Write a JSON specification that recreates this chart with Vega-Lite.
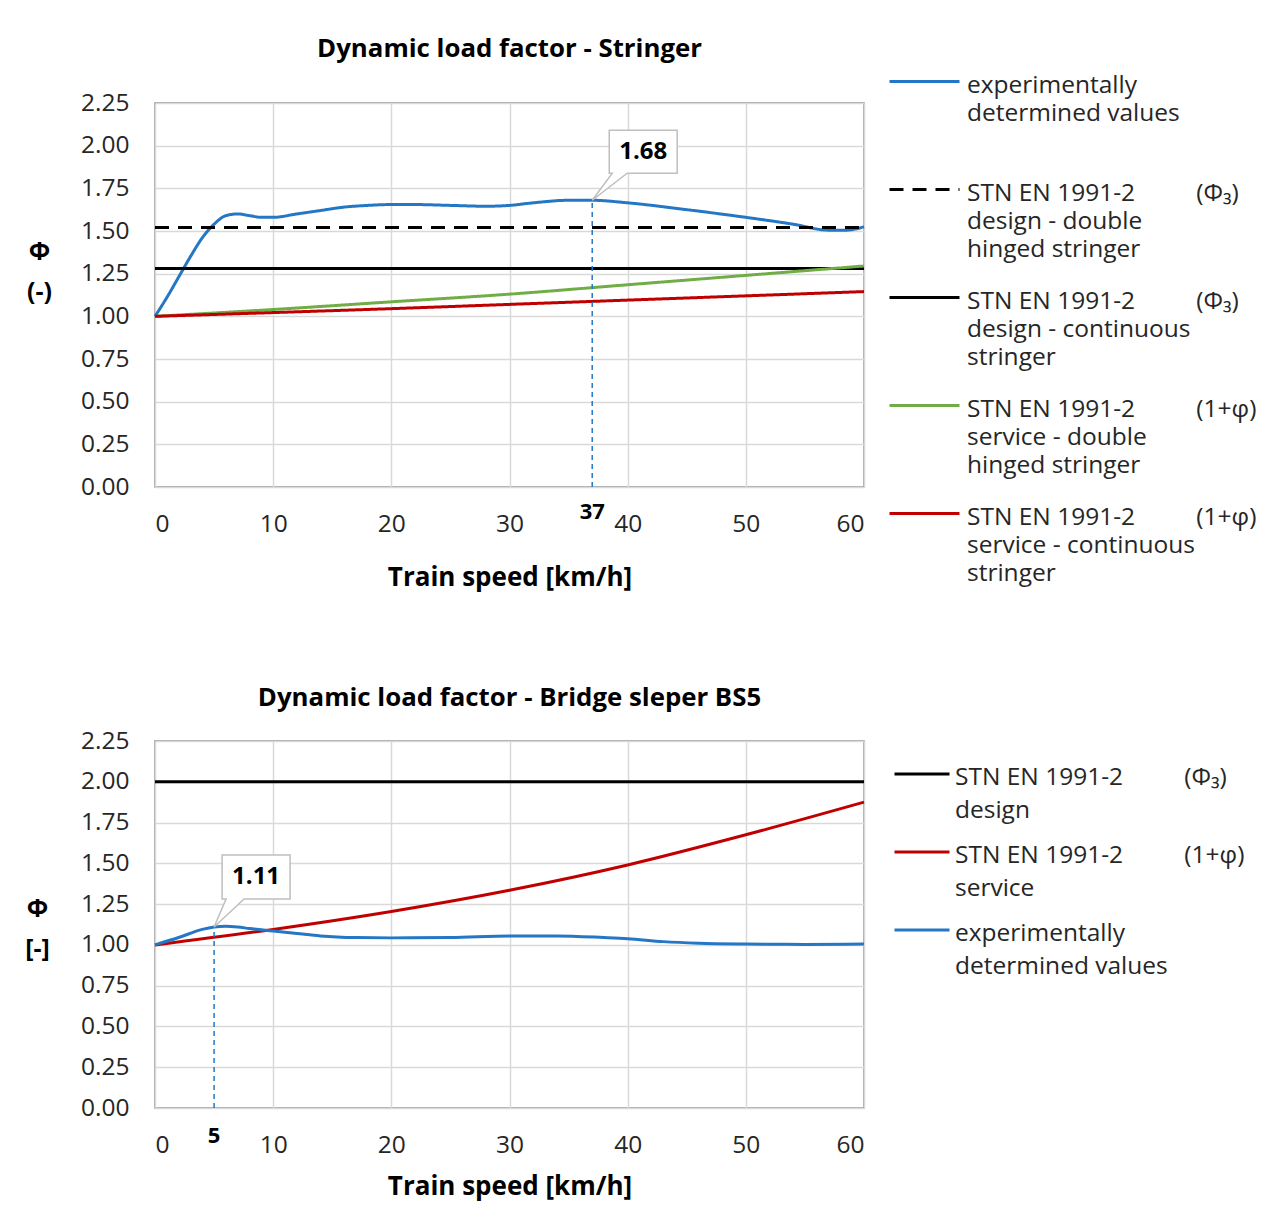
{
  "$schema": "https://vega.github.io/schema/vega-lite/v6.json",
  "background": "white",
  "padding": {"left": 23, "top": 35, "right": 5, "bottom": 5},
  "spacing": 92,
  "datasets": {
    "stringer": [
      {"s": "exp", "v": 0, "phi": 1.0}, {"s": "exp", "v": 1, "phi": 1.11}, {"s": "exp", "v": 2, "phi": 1.23},
      {"s": "exp", "v": 3, "phi": 1.35}, {"s": "exp", "v": 4, "phi": 1.46}, {"s": "exp", "v": 5, "phi": 1.54},
      {"s": "exp", "v": 6, "phi": 1.59}, {"s": "exp", "v": 7, "phi": 1.6}, {"s": "exp", "v": 8, "phi": 1.59},
      {"s": "exp", "v": 9, "phi": 1.58}, {"s": "exp", "v": 10, "phi": 1.58}, {"s": "exp", "v": 12, "phi": 1.6},
      {"s": "exp", "v": 14, "phi": 1.62}, {"s": "exp", "v": 16, "phi": 1.64}, {"s": "exp", "v": 18, "phi": 1.65},
      {"s": "exp", "v": 20, "phi": 1.655}, {"s": "exp", "v": 22, "phi": 1.655}, {"s": "exp", "v": 25, "phi": 1.65},
      {"s": "exp", "v": 28, "phi": 1.645}, {"s": "exp", "v": 30, "phi": 1.65}, {"s": "exp", "v": 32, "phi": 1.665},
      {"s": "exp", "v": 35, "phi": 1.68}, {"s": "exp", "v": 37, "phi": 1.68}, {"s": "exp", "v": 40, "phi": 1.665},
      {"s": "exp", "v": 45, "phi": 1.625}, {"s": "exp", "v": 50, "phi": 1.58}, {"s": "exp", "v": 54, "phi": 1.54},
      {"s": "exp", "v": 57, "phi": 1.505}, {"s": "exp", "v": 58.5, "phi": 1.505}, {"s": "exp", "v": 60, "phi": 1.525},
      {"s": "dd", "v": 0, "phi": 1.52}, {"s": "dd", "v": 60, "phi": 1.52},
      {"s": "dc", "v": 0, "phi": 1.28}, {"s": "dc", "v": 60, "phi": 1.28},
      {"s": "sd", "v": 0, "phi": 1.0}, {"s": "sd", "v": 10, "phi": 1.04}, {"s": "sd", "v": 20, "phi": 1.085},
      {"s": "sd", "v": 30, "phi": 1.13}, {"s": "sd", "v": 40, "phi": 1.185}, {"s": "sd", "v": 50, "phi": 1.24},
      {"s": "sd", "v": 60, "phi": 1.295},
      {"s": "sc", "v": 0, "phi": 1.0}, {"s": "sc", "v": 10, "phi": 1.022}, {"s": "sc", "v": 20, "phi": 1.045},
      {"s": "sc", "v": 30, "phi": 1.07}, {"s": "sc", "v": 40, "phi": 1.095}, {"s": "sc", "v": 50, "phi": 1.12},
      {"s": "sc", "v": 60, "phi": 1.145}
    ],
    "sleeper": [
      {"s": "d", "v": 0, "phi": 2.0}, {"s": "d", "v": 60, "phi": 2.0},
      {"s": "s", "v": 0, "phi": 1.0}, {"s": "s", "v": 10, "phi": 1.095}, {"s": "s", "v": 20, "phi": 1.205},
      {"s": "s", "v": 30, "phi": 1.335}, {"s": "s", "v": 40, "phi": 1.49}, {"s": "s", "v": 50, "phi": 1.675},
      {"s": "s", "v": 60, "phi": 1.875},
      {"s": "exp", "v": 0, "phi": 1.0}, {"s": "exp", "v": 2, "phi": 1.045}, {"s": "exp", "v": 4, "phi": 1.095},
      {"s": "exp", "v": 5, "phi": 1.11}, {"s": "exp", "v": 6, "phi": 1.115}, {"s": "exp", "v": 7, "phi": 1.11},
      {"s": "exp", "v": 8, "phi": 1.1}, {"s": "exp", "v": 10, "phi": 1.085}, {"s": "exp", "v": 12, "phi": 1.07},
      {"s": "exp", "v": 14, "phi": 1.055}, {"s": "exp", "v": 17, "phi": 1.045}, {"s": "exp", "v": 20, "phi": 1.043},
      {"s": "exp", "v": 25, "phi": 1.045}, {"s": "exp", "v": 30, "phi": 1.055}, {"s": "exp", "v": 34, "phi": 1.055},
      {"s": "exp", "v": 38, "phi": 1.045}, {"s": "exp", "v": 40, "phi": 1.038}, {"s": "exp", "v": 43, "phi": 1.02},
      {"s": "exp", "v": 46, "phi": 1.01}, {"s": "exp", "v": 50, "phi": 1.005}, {"s": "exp", "v": 55, "phi": 1.003},
      {"s": "exp", "v": 60, "phi": 1.005}
    ],
    "peakTop": [{"v": 37, "zero": 0, "phi": 1.68, "label": "1.68", "tick": "37"}],
    "peakBottom": [{"v": 5, "zero": 0, "phi": 1.11, "label": "1.11", "tick": "5"}]
  },
  "vconcat": [
    {
      "width": 709,
      "height": 384,
      "title": {"text": "Dynamic load factor - Stringer", "frame": "group", "anchor": "middle", "offset": -18},
      "layer": [
        {
          "data": {"name": "stringer"},
          "mark": {"type": "line", "strokeWidth": 3, "interpolate": "monotone"},
          "encoding": {
            "x": {"field": "v", "type": "quantitative", "scale": {"domain": [0, 60], "nice": false},
                  "axis": {"values": [0, 10, 20, 30, 40, 50, 60], "title": "Train speed [km/h]"}},
            "y": {"field": "phi", "type": "quantitative", "scale": {"domain": [0, 2.25], "nice": false},
                  "axis": {"values": [0, 0.25, 0.5, 0.75, 1, 1.25, 1.5, 1.75, 2, 2.25], "format": ".2f",
                           "title": ["Φ", "(-)"], "titleX": -116, "titleY": 148}},
            "color": {"field": "s", "type": "nominal",
                      "scale": {"domain": ["exp", "dd", "dc", "sd", "sc"], "range": ["#2477c4", "#000000", "#000000", "#70ad47", "#c00000"]},
                      "legend": {"title": null, "orient": "none", "legendX": 733, "legendY": -58, "symbolSize": 4900, "rowPadding": 0,
                                 "labelOffset": 6,
                                 "labelExpr": "datum.label == 'exp' ? ['experimentally', 'determined values', ''] : datum.label == 'dd' ? ['STN EN 1991-2\u2003\u2003\u2002(Φ₃)', 'design - double', 'hinged stringer'] : datum.label == 'dc' ? ['STN EN 1991-2\u2003\u2003\u2002(Φ₃)', 'design - continuous', 'stringer'] : datum.label == 'sd' ? ['STN EN 1991-2\u2003\u2003\u2002(1+φ)', 'service - double', 'hinged stringer'] : ['STN EN 1991-2\u2003\u2003\u2002(1+φ)', 'service - continuous', 'stringer']",
                                 "encode": {
                                   "labels": {"update": {"lineHeight": {"value": 28}, "dy": {"value": -8}}},
                                   "symbols": {"update": {"strokeDash": {"signal": "datum.value == 'dd' ? [14, 9] : [1, 0]"}}}
                                 }}},
            "strokeDash": {"field": "s", "type": "nominal", "legend": null,
                           "scale": {"domain": ["exp", "dd", "dc", "sd", "sc"], "range": [[1, 0], [14, 9], [1, 0], [1, 0], [1, 0]]}}
          }
        },
        {
          "data": {"name": "peakTop"},
          "mark": {"type": "rule", "color": "#2477c4", "strokeDash": [5, 4], "strokeWidth": 1.5},
          "encoding": {"x": {"field": "v", "type": "quantitative"}, "y": {"field": "zero", "type": "quantitative"}, "y2": {"field": "phi"}}
        },
        {
          "data": {"name": "peakTop"},
          "mark": {"type": "point", "shape": "M0,0L0.233,-0.314L0.198,-0.314L0.198,-0.814L0.988,-0.814L0.988,-0.314L0.407,-0.314Z",
                   "size": 29584, "filled": true, "fill": "white", "stroke": "#bfbfbf", "strokeWidth": 1.5, "opacity": 1},
          "encoding": {"x": {"field": "v", "type": "quantitative"}, "y": {"field": "phi", "type": "quantitative"}}
        },
        {
          "data": {"name": "peakTop"},
          "mark": {"type": "text", "dx": 51, "dy": -48, "fontSize": 24, "fontWeight": "bold", "baseline": "middle", "align": "center", "color": "black"},
          "encoding": {"x": {"field": "v", "type": "quantitative"}, "y": {"field": "phi", "type": "quantitative"}, "text": {"field": "label"}}
        },
        {
          "data": {"name": "peakTop"},
          "mark": {"type": "text", "dy": 25, "fontSize": 22, "fontWeight": "bold", "baseline": "middle", "align": "center", "color": "black"},
          "encoding": {"x": {"field": "v", "type": "quantitative"}, "y": {"field": "zero", "type": "quantitative"}, "text": {"field": "tick"}}
        }
      ]
    },
    {
      "width": 709,
      "height": 367,
      "title": {"text": "Dynamic load factor - Bridge sleper BS5", "frame": "group", "anchor": "middle", "offset": 16},
      "layer": [
        {
          "data": {"name": "sleeper"},
          "mark": {"type": "line", "strokeWidth": 3, "interpolate": "monotone"},
          "encoding": {
            "x": {"field": "v", "type": "quantitative", "scale": {"domain": [0, 60], "nice": false},
                  "axis": {"values": [0, 10, 20, 30, 40, 50, 60], "title": "Train speed [km/h]", "titlePadding": 17}},
            "y": {"field": "phi", "type": "quantitative", "scale": {"domain": [0, 2.25], "nice": false},
                  "axis": {"values": [0, 0.25, 0.5, 0.75, 1, 1.25, 1.5, 1.75, 2, 2.25], "format": ".2f",
                           "title": ["Φ", "[-]"], "titleX": -118, "titleY": 167}},
            "color": {"field": "s", "type": "nominal",
                      "scale": {"domain": ["d", "s", "exp"], "range": ["#000000", "#c00000", "#2477c4"]},
                      "legend": {"title": null, "orient": "none", "legendX": 738, "legendY": 4, "symbolSize": 3025, "rowPadding": 0,
                                 "labelOffset": 4,
                                 "labelExpr": "datum.label == 'd' ? ['STN EN 1991-2\u2003\u2003\u2002(Φ₃)', 'design'] : datum.label == 's' ? ['STN EN 1991-2\u2003\u2003\u2002(1+φ)', 'service'] : ['experimentally', 'determined values']",
                                 "encode": {"labels": {"update": {"lineHeight": {"value": 33}, "dy": {"value": -8}}}}}}
          }
        },
        {
          "data": {"name": "peakBottom"},
          "mark": {"type": "rule", "color": "#2477c4", "strokeDash": [5, 4], "strokeWidth": 1.5},
          "encoding": {"x": {"field": "v", "type": "quantitative"}, "y": {"field": "zero", "type": "quantitative"}, "y2": {"field": "phi"}}
        },
        {
          "data": {"name": "peakBottom"},
          "mark": {"type": "point", "shape": "M0,0L0.15,-0.35L0.1,-0.35L0.1,-0.9L0.95,-0.9L0.95,-0.35L0.375,-0.35Z",
                   "size": 25600, "filled": true, "fill": "white", "stroke": "#bfbfbf", "strokeWidth": 1.5, "opacity": 1},
          "encoding": {"x": {"field": "v", "type": "quantitative"}, "y": {"field": "phi", "type": "quantitative"}}
        },
        {
          "data": {"name": "peakBottom"},
          "mark": {"type": "text", "dx": 42, "dy": -50, "fontSize": 24, "fontWeight": "bold", "baseline": "middle", "align": "center", "color": "black"},
          "encoding": {"x": {"field": "v", "type": "quantitative"}, "y": {"field": "phi", "type": "quantitative"}, "text": {"field": "label"}}
        },
        {
          "data": {"name": "peakBottom"},
          "mark": {"type": "text", "dy": 28, "fontSize": 22, "fontWeight": "bold", "baseline": "middle", "align": "center", "color": "black"},
          "encoding": {"x": {"field": "v", "type": "quantitative"}, "y": {"field": "zero", "type": "quantitative"}, "text": {"field": "tick"}}
        }
      ]
    }
  ],
  "resolve": {
    "scale": {"color": "independent"},
    "legend": {"color": "independent"}
  },
  "config": {
    "font": "Open Sans",
    "view": {"stroke": "#8c8c8c", "strokeWidth": 1.5},
    "title": {"fontSize": 25.8, "fontWeight": "bold", "color": "black"},
    "axis": {
      "domain": false, "ticks": false, "gridColor": "#d9d9d9", "gridWidth": 1.5,
      "labelFontSize": 24.5, "labelColor": "#262626", "labelPadding": 25,
      "titleFontSize": 26, "titleFontWeight": "bold", "titleColor": "black"
    },
    "axisX": {"titlePadding": 29},
    "axisY": {"titleAngle": 0, "titleAlign": "center", "titleBaseline": "middle", "titleLineHeight": 40, "titleFontSize": 25, "labelPadding": 26},
    "legend": {
      "symbolType": "stroke", "symbolStrokeWidth": 3, "labelFontSize": 24.5, "labelColor": "#262626",
      "labelLimit": 500, "labelBaseline": "top", "padding": 0
    }
  }
}
